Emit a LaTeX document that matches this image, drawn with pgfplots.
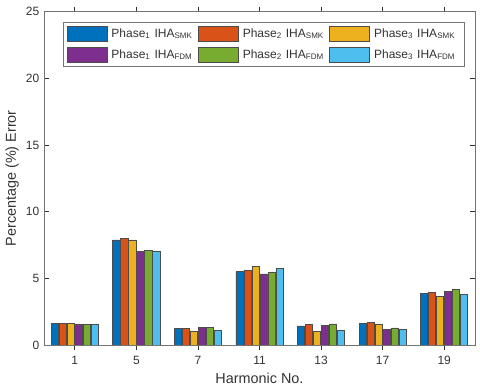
\documentclass[border=0pt]{standalone}
\usepackage{fontspec}
\setmainfont{Liberation Sans}
\usepackage{pgfplots}
\usepackage{pgfplotstable}
\pgfplotsset{compat=1.18}
\usetikzlibrary{calc}
\definecolor{mblue}{rgb}{0,0.447,0.741}
\definecolor{morange}{rgb}{0.85,0.325,0.098}
\definecolor{myellow}{rgb}{0.929,0.694,0.125}
\definecolor{mpurple}{rgb}{0.494,0.184,0.556}
\definecolor{mgreen}{rgb}{0.466,0.674,0.188}
\definecolor{mcyan}{rgb}{0.301,0.745,0.933}
\definecolor{axgray}{gray}{0.45}
\definecolor{txt}{gray}{0.2}
\newcommand{\ph}[2]{\mbox{Phase\textsubscript{#1} IHA\textsubscript{#2}}}

% harmonic index, % error per phase / method
\pgfplotstableread{
x  psmkA psmkB psmkC pfdmA pfdmB pfdmC
1  1.63  1.63  1.63  1.53  1.53  1.53
2  7.88  7.98  7.88  7.00  7.08  7.03
3  1.23  1.25  1.03  1.30  1.33  1.10
4  5.50  5.60  5.88  5.33  5.43  5.76
5  1.43  1.53  1.05  1.45  1.58  1.10
6  1.60  1.68  1.58  1.18  1.28  1.20
7  3.85  3.95  3.65  4.00  4.15  3.80
}\harm

\begin{document}
\begin{tikzpicture}
\begin{axis}[
  scale only axis,
  width=323.25pt, height=250pt,
  xmin=0.5, xmax=7.5, ymin=0, ymax=25,
  xtick={1,2,3,4,5,6,7},
  xticklabels={1,5,7,11,13,17,19},
  ytick={0,5,10,15,20,25},
  tick align=inside, tick pos=both,
  major tick length=3.5pt,
  axis line style={draw=axgray, line width=0.6pt},
  every tick/.style={draw=black!80, line width=0.6pt},
  axis on top,
  ybar, bar width=0.115,
  /pgf/number format/assume math mode=true,
  tick label style={font=\fontsize{9}{10}\selectfont, color=txt},
  xticklabel style={yshift=-1.5pt},
  label style={font=\fontsize{10.8}{12}\selectfont, color=txt},
  xlabel={Harmonic No.},
  ylabel={Percentage (\%) Error},
  xlabel style={at={(axis description cs:0.5,-0.099)}, anchor=center},
  ylabel style={at={(axis description cs:-0.074,0.5)}, anchor=center},
  every axis plot/.append style={draw=black!70, line width=0.5pt},
  legend columns=3,
  legend style={
    at={(axis description cs:0.0434,0.968)}, anchor=north west,
    draw=axgray, fill=white, line width=0.5pt,
    font=\fontsize{9}{11}\selectfont, text=txt,
    inner sep=2.8pt, row sep=4pt,
    nodes={inner sep=0pt, text width=65pt, align=left, text depth=2.5pt, text height=7pt},
    /tikz/every odd column/.append style={column sep=3pt},
  },
  legend image code/.code={
    \draw[#1] (0pt,-5.6pt) rectangle (30pt,5.6pt);
  },
]
\addplot[fill=mblue, bar shift=-0.325] table[x=x,y=psmkA]{\harm};
\addplot[fill=morange, bar shift=-0.195] table[x=x,y=psmkB]{\harm};
\addplot[fill=myellow, bar shift=-0.065] table[x=x,y=psmkC]{\harm};
\addplot[fill=mpurple, bar shift=0.065] table[x=x,y=pfdmA]{\harm};
\addplot[fill=mgreen, bar shift=0.195] table[x=x,y=pfdmB]{\harm};
\addplot[fill=mcyan, bar shift=0.325] table[x=x,y=pfdmC]{\harm};
\legend{\ph{1}{SMK}, \ph{2}{SMK}, \ph{3}{SMK},
        \ph{1}{FDM}, \ph{2}{FDM}, \ph{3}{FDM}}
\coordinate (sw) at (rel axis cs:0,0);
\coordinate (ne) at (rel axis cs:1,1);
\end{axis}
\pgfresetboundingbox
\path[use as bounding box] ($(sw)+(-33pt,-33pt)$) rectangle ($(ne)+(3.75pt,8.75pt)$);
\end{tikzpicture}
\end{document}
